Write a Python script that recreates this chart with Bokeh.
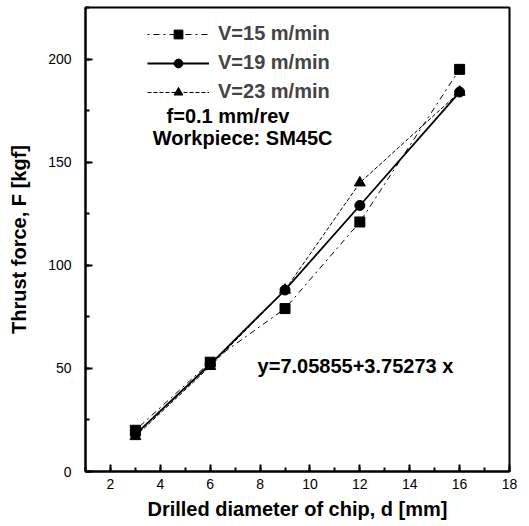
from bokeh.plotting import figure
from bokeh.models import Legend, LegendItem, Label, Range1d, SingleIntervalTicker
from bokeh.embed import file_html
from bokeh.resources import INLINE

# Data
d_mm = [3, 6, 9, 12, 16]
f_v15 = [20, 53, 79, 121, 195]
f_v19 = [18, 52, 88, 129, 184]
f_v23 = [17, 51, 88, 140, 184]
series_labels = ["V=15 m/min", "V=19 m/min", "V=23 m/min"]
note_feed = "f=0.1 mm/rev"
note_work = "Workpiece: SM45C"
fit_text = "y=7.05855+3.75273 x"

FONT = "Liberation Sans"

p = figure(frame_width=424, frame_height=464, output_backend="svg",
           toolbar_location=None, x_range=Range1d(1, 18), y_range=Range1d(0, 225),
           min_border_left=85, min_border_right=10, min_border_top=7,
           min_border_bottom=30)
p.xgrid.visible = False
p.ygrid.visible = False
p.outline_line_color = "black"
p.outline_line_width = 2
p.background_fill_color = "white"
p.border_fill_color = "white"

p.xaxis.ticker = SingleIntervalTicker(interval=2, num_minor_ticks=2)
p.yaxis.ticker = SingleIntervalTicker(interval=50, num_minor_ticks=2)
for ax in (p.xaxis[0], p.yaxis[0]):
    ax.axis_line_width = 2
    ax.axis_line_color = "black"
    ax.major_tick_in = 7
    ax.major_tick_out = 0
    ax.minor_tick_in = 4
    ax.minor_tick_out = 0
    ax.major_tick_line_width = 2
    ax.minor_tick_line_width = 2
    ax.major_label_text_font = FONT
    ax.major_label_text_font_size = "14px"
    ax.major_label_text_color = "black"
    ax.axis_label_text_font = FONT
    ax.axis_label_text_font_size = "20px"
    ax.axis_label_text_font_style = "bold"
    ax.axis_label_text_color = "black"

p.xaxis.axis_label = "Drilled diameter of chip, d [mm]"
p.yaxis.axis_label = "Thrust force, F [kgf]"
p.xaxis.major_label_standoff = 7
p.xaxis.axis_label_standoff = 6
p.yaxis.major_label_standoff = 14
p.yaxis.axis_label_standoff = 15

l15 = p.line(d_mm, f_v15, line_color="black", line_width=1, line_dash="dotdash")
m15 = p.scatter(d_mm, f_v15, marker="square", size=10, color="black")
l19 = p.line(d_mm, f_v19, line_color="black", line_width=1.8)
m19 = p.scatter(d_mm, f_v19, marker="circle", size=10, color="black")
l23 = p.line(d_mm, f_v23, line_color="black", line_width=1, line_dash="4 2")
m23 = p.scatter(d_mm, f_v23, marker="triangle", size=11, color="black")

legend = Legend(items=[
    LegendItem(label=series_labels[0], renderers=[l15, m15]),
    LegendItem(label=series_labels[1], renderers=[l19, m19]),
    LegendItem(label=series_labels[2], renderers=[l23, m23]),
], location=(62, 368))
legend.border_line_color = None
legend.background_fill_alpha = 0
legend.margin = 0
legend.padding = 4
legend.glyph_width = 62
legend.glyph_height = 22
legend.label_height = 22
legend.spacing = 6
legend.label_standoff = 9
legend.label_text_font = FONT
legend.label_text_font_size = "20px"
legend.label_text_font_style = "bold"
p.add_layout(legend, "center")

for txt, xx, yy in [(note_feed, 4.25, 172.5), (note_work, 3.7, 161.5), (fit_text, 7.9, 51.0)]:
    p.add_layout(Label(x=xx, y=yy, text=txt, text_font=FONT, text_font_size="20px",
                       text_font_style="bold", text_baseline="middle", text_color="black"))

open("out.html", "w").write(file_html(p, INLINE))
